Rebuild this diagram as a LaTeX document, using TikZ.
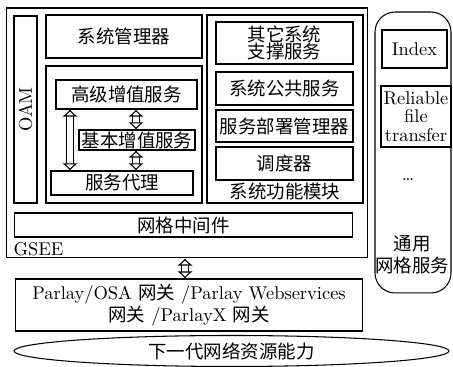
\documentclass[tikz,border=0pt]{standalone}
\usepackage{fontspec}
\newfontfamily\cjk{Noto Sans CJK SC}
\usepackage{tikz}
\usetikzlibrary{arrows.meta,calc,positioning,shapes.geometric}

\begin{document}
\fontsize{10.5}{12.6}\selectfont
\begin{tikzpicture}[x=0.02cm,y=-0.02cm,line width=0.6pt,
  box/.style={draw,inner sep=0pt,font=\cjk,align=center},
  dar/.style={double,double distance=3pt,line width=0.6pt,{Latex[open,length=4pt,width=9pt]}-{Latex[open,length=4pt,width=9pt]}}]
\useasboundingbox (0,0) rectangle (453,367);
% GSEE
\node[box,minimum width=7.24cm,minimum height=5cm] (gsee) at (187,133) {};
\node[anchor=west] (gseel) at (7,249) {GSEE};
\node[box,minimum width=0.46cm,minimum height=3.74cm] (oam) at (25.5,109.5) {};
\node[rotate=90] (oaml) at (oam.center) {OAM};
\node[box,minimum width=3.12cm,minimum height=0.86cm] (mgr) at (124,36.5) {系统管理器};
\node[box,minimum width=3.12cm,minimum height=2.74cm] (svc) at (124,134.5) {};
\node[box,minimum width=2.82cm,minimum height=0.58cm] (gaoji) at (126.5,94.5) {高级增值服务};
\node[box,minimum width=2.32cm,minimum height=0.40cm] (jiben) at (137,140) {基本增值服务};
\node[box,minimum width=2.84cm,minimum height=0.48cm] (daili) at (122,183) {服务代理};
\coordinate (la) at (70,0);
\coordinate (ra) at (136,0);
\draw[dar] (gaoji.south -| la) -- (daili.north -| la);
\draw[dar] (gaoji.south -| ra) -- (jiben.north -| ra);
\draw[dar] (jiben.south -| ra) -- (daili.north -| ra);
% system modules
\node[box,minimum width=3.12cm,minimum height=3.76cm] (sys) at (285,109) {};
\node[box,minimum width=2.74cm,minimum height=0.84cm] (other) at (284.5,43) {其它系统\\[-3pt]支撑服务};
\node[box,minimum width=2.74cm,minimum height=0.66cm] (pub) at (284.5,88.5) {系统公共服务};
\node[box,minimum width=2.74cm,minimum height=0.64cm] (deploy) at (284.5,126) {服务部署管理器};
\node[box,minimum width=2.74cm,minimum height=0.66cm] (sched) at (284.5,163.5) {调度器};
\node[font=\cjk] (sysl) at (285,191) {系统功能模块};
\node[box,minimum width=6.78cm,minimum height=0.48cm] (mid) at (183.5,225) {网格中间件};
% generic grid services
\node[draw,rounded corners=0.4cm,inner sep=0pt,minimum width=1.52cm,minimum height=5.62cm] (grid) at (413,152.5) {};
\node[box,minimum width=1.30cm,minimum height=0.76cm,font=\rmfamily] (index) at (414.5,49) {Index};
\node[box,minimum width=1.40cm,minimum height=1.22cm,font=\rmfamily] (rft) at (416,116.5) {Reliable\\[-2pt]file\\[-2pt]transfer};
\node (dots) at (408,180) {\dots};
\node[font=\cjk,align=center] (gridl) at (412,255) {通用\\网格服务};
% gateway
\node[box,minimum width=6.96cm,minimum height=1.04cm,font=\rmfamily] (parlay) at (189,305) {Parlay/OSA {\cjk 网关} /Parlay Webservices\\{\cjk 网关} /ParlayX {\cjk 网关}};
\coordinate (ca) at (185,0);
\draw[dar] (gsee.south -| ca) -- (parlay.north -| ca);
\node[draw,ellipse,inner sep=0pt,minimum width=8.7cm,minimum height=0.62cm,font=\cjk] (ngn) at (231.5,351) {下一代网络资源能力};
\end{tikzpicture}
\end{document}
